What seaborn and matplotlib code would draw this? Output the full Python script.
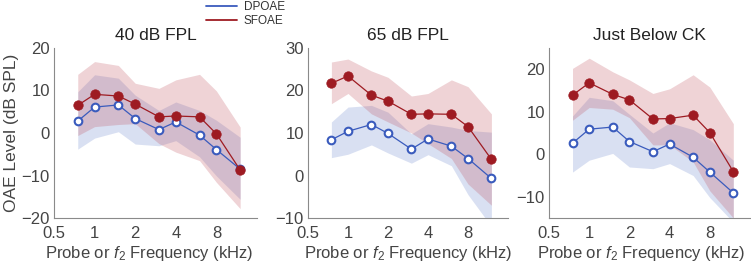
import numpy as np
import pandas as pd
import matplotlib
matplotlib.use("Agg")
import matplotlib.pyplot as plt
import seaborn as sns
from matplotlib.ticker import FixedLocator, LogLocator, MultipleLocator, NullFormatter
from matplotlib.lines import Line2D

# ---------------- data ----------------
freqs = [0.75, 1, 1.5, 2, 3, 4, 6, 8, 12]
titles = ["40 dB FPL", "65 dB FPL", "Just Below CK"]

sf40 = [6.5, 9.1, 8.7, 6.8, 3.8, 4.0, 3.8, -0.2, -8.7]
dp40 = [2.8, 6.1, 6.6, 3.4, 0.8, 2.6, -0.5, -3.9, -8.5]
sf40_hi = [13.8, 16.8, 15.9, 11.7, 10.5, 12.5, 13.8, 9.9, 1.4]
sf40_lo = [-0.6, 1.5, 2.0, 2.2, -2.5, -4.5, -6.5, -11.6, -17.8]
dp40_hi = [9.7, 13.7, 12.9, 8.9, 5.3, 7.3, 5.3, 3.0, -1.0]
dp40_lo = [-3.8, -1.2, 0.3, -2.6, -3.0, -1.8, -5.6, -10.1, -15.6]

sf65 = [21.7, 23.4, 18.9, 17.5, 14.4, 14.5, 14.4, 11.5, 3.8]
dp65 = [8.4, 10.4, 12.0, 9.9, 6.2, 8.6, 6.9, 4.0, -0.7]
sf65_hi = [26.7, 27.4, 24.6, 23.1, 18.7, 19.3, 22.5, 20.9, 14.5]
sf65_lo = [16.9, 19.3, 14.5, 12.6, 10.0, 7.5, 4.0, -2.0, -7.0]
dp65_hi = [12.6, 16.1, 16.5, 14.9, 9.8, 12.2, 11.4, 10.6, 10.2]
dp65_lo = [4.2, 5.0, 7.2, 5.3, 2.9, 4.9, 2.3, -4.5, -12.0]

sfck = [13.9, 16.8, 14.1, 12.8, 8.3, 8.4, 9.2, 5.1, -4.1]
dpck = [2.6, 5.9, 6.4, 3.0, 0.6, 2.4, -0.7, -4.2, -9.1]
sfck_hi = [20.2, 22.6, 19.4, 17.5, 14.3, 15.4, 18.7, 15.8, 7.2]
sfck_lo = [8.0, 11.0, 10.6, 8.6, 2.2, 2.2, -1.8, -8.6, -15.0]
dpck_hi = [9.0, 13.4, 12.6, 9.4, 5.0, 7.4, 5.8, 3.4, -1.4]
dpck_lo = [-4.2, -1.4, 0.2, -3.0, -3.4, -2.2, -5.0, -10.2, -16.0]

ylims = [(-20, 20), (-10, 30), (-15, 25)]
yticks = [[-20, -10, 0, 10, 20], [-10, 0, 10, 20, 30], [-10, 0, 10, 20]]
xticks = [0.5, 1, 2, 4, 8]
xticklabels = ["0.5", "1", "2", "4", "8"]

panels = [
    (sf40, dp40, sf40_hi, sf40_lo, dp40_hi, dp40_lo),
    (sf65, dp65, sf65_hi, sf65_lo, dp65_hi, dp65_lo),
    (sfck, dpck, sfck_hi, sfck_lo, dpck_hi, dpck_lo),
]

# ---------------- style ----------------
sns.set_style("white")
plt.rcParams["font.family"] = ["Liberation Sans", "DejaVu Sans"]
plt.rcParams["mathtext.fontset"] = "custom"
plt.rcParams["mathtext.rm"] = "Liberation Sans"
plt.rcParams["mathtext.it"] = "Liberation Sans:italic"

RED = "#9e1b22"
BLUE = "#3a5bbd"
RED_FILL = "#c0505c"
BLUE_FILL = "#6a85cc"
TEXT = "#444444"
AXC = "#8a8a8a"

fig = plt.figure(figsize=(7.51, 2.68), dpi=100)
W, H = 751, 268
lefts = [54, 308, 549]
widths = [203, 200, 201]
label_x = [0.47, 0.5, 0.46]
top, bottom = 48, 218

for i, (sf, dp, sfh, sfl, dph, dpl) in enumerate(panels):
    ax = fig.add_axes([lefts[i] / W, 1 - bottom / H, widths[i] / W, (bottom - top) / H])
    ax.set_xscale("log", base=2)
    ax.fill_between(freqs, dpl, dph, color=BLUE_FILL, alpha=0.25, linewidth=0, zorder=1)
    ax.fill_between(freqs, sfl, sfh, color=RED_FILL, alpha=0.25, linewidth=0, zorder=1)

    df = pd.DataFrame({"f": freqs * 2, "level": list(dp) + list(sf),
                       "type": ["DPOAE"] * len(freqs) + ["SFOAE"] * len(freqs)})
    sns.lineplot(data=df[df.type == "DPOAE"], x="f", y="level", ax=ax, color=BLUE,
                 lw=0.9, marker="o", markersize=5.5, markerfacecolor="white",
                 markeredgecolor=BLUE, markeredgewidth=1.5, zorder=3, legend=False)
    sns.lineplot(data=df[df.type == "SFOAE"], x="f", y="level", ax=ax, color=RED,
                 lw=0.9, marker="o", markersize=6.8, markerfacecolor=RED,
                 markeredgecolor=RED, markeredgewidth=0.5, zorder=4, legend=False)

    ax.set_xlim(0.5, 16)
    ax.set_ylim(*ylims[i])
    ax.xaxis.set_major_locator(FixedLocator(xticks))
    ax.set_xticklabels(xticklabels)
    ax.xaxis.set_minor_locator(LogLocator(base=10, subs=np.arange(2, 10)))
    ax.xaxis.set_minor_formatter(NullFormatter())
    ax.set_yticks(yticks[i])
    ax.yaxis.set_minor_locator(MultipleLocator(2))

    for s in ["top", "right"]:
        ax.spines[s].set_visible(False)
    for s in ["left", "bottom"]:
        ax.spines[s].set_color(AXC)
        ax.spines[s].set_linewidth(0.8)
    ax.tick_params(which="major", direction="in", length=4, width=0.7, color=AXC,
                   labelsize=12, labelcolor=TEXT)
    ax.tick_params(axis="x", which="major", pad=6)
    ax.tick_params(axis="y", which="major", pad=3)
    ax.tick_params(which="minor", direction="in", length=2, width=0.5, color=AXC)
    ax.set_xlabel("Probe or $\\mathit{f}_2$ Frequency (kHz)", fontsize=12, color=TEXT, labelpad=1)
    ax.xaxis.set_label_coords(label_x[i], -0.155)
    ax.set_ylabel("OAE Level (dB SPL)" if i == 0 else "", fontsize=12.5, color=TEXT, labelpad=2)
    ax.set_title(titles[i], fontsize=12.5, color="#222222", pad=6)
    ax.patch.set_alpha(0)

handles = [Line2D([], [], color=BLUE, lw=1.3), Line2D([], [], color=RED, lw=1.3)]
fig.legend(handles, ["DPOAE", "SFOAE"], loc="upper left", bbox_to_anchor=(205 / W, 1.0),
           frameon=False, fontsize=8.5, handlelength=2.6, handletextpad=0.6,
           labelspacing=0.15, borderaxespad=0.0, borderpad=0.1, labelcolor="#333333")

fig.savefig("out.png", dpi=100)
